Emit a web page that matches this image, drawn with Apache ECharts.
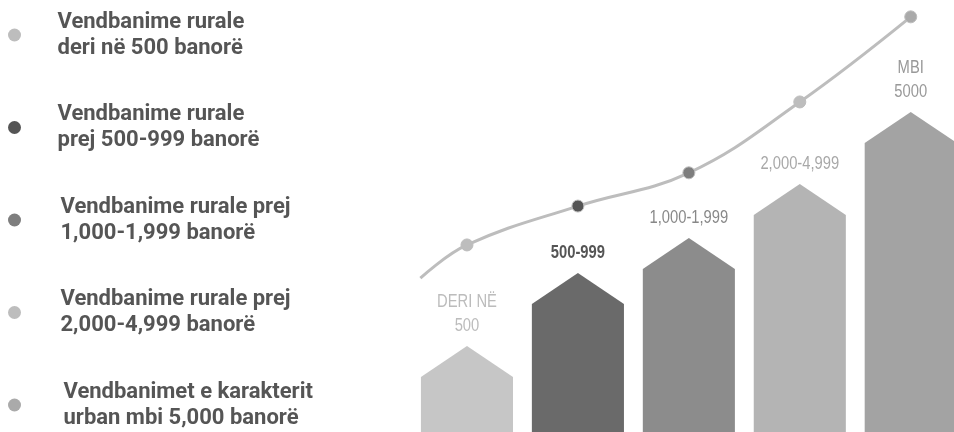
<!DOCTYPE html>
<html>
<head>
<meta charset="utf-8">
<script src="https://cdn.jsdelivr.net/npm/echarts@6/dist/echarts.min.js"></script>
<style>
html,body{margin:0;padding:0;background:#ffffff;}
#chart{width:954px;height:432px;}
</style>
</head>
<body>
<div id="chart"></div>
<script>
// Categories (labels above the house-shaped bars)
var categories = ['DERI NË\n500', '500-999', '1,000-1,999', '2,000-4,999', 'MBI\n5000'];
// Legend labels
var legendNames = [
  'Vendbanime rurale\nderi në 500 banorë',
  'Vendbanime rurale\nprej 500-999 banorë',
  'Vendbanime rurale prej\n1,000-1,999 banorë',
  'Vendbanime rurale prej\n2,000-4,999 banorë',
  'Vendbanimet e karakterit\nurban mbi 5,000 banorë'
];
// Bar heights (apex, arbitrary 0-100 scale)
var barValues = [19.9, 36.8, 44.9, 57.4, 74.1];
// Trend line values
var lineStartX = -0.42;
var lineStartValue = 35.6;
var lineValues = [43.3, 52.3, 60.0, 76.4, 96.1];

var barColors = ['#c6c6c6', '#6a6a6a', '#8c8c8c', '#b4b4b4', '#a3a3a3'];
var dotColors = ['#bdbdbd', '#555555', '#7e7e7e', '#bdbdbd', '#aaaaaa'];
var labelColors = ['#bcbcbc', '#555555', '#888888', '#a8a8a8', '#999999'];

var chart = echarts.init(document.getElementById('chart'));

var series = [];
categories.forEach(function (cat, i) {
  series.push({
    type: 'custom',
    name: legendNames[i],
    color: dotColors[i],
    data: [[i, barValues[i]]],
    clip: false,
    renderItem: function (params, api) {
      var x = api.value(0), v = api.value(1);
      var apex = api.coord([x, v]);
      var base = api.coord([x, 0]);
      var half = api.size([1, 0])[0] * 0.415;
      var roof = 31;
      return {
        type: 'group',
        children: [
          {
            type: 'polygon',
            shape: {
              points: [
                [apex[0] - half, base[1]],
                [apex[0] - half, apex[1] + roof],
                [apex[0], apex[1]],
                [apex[0] + half, apex[1] + roof],
                [apex[0] + half, base[1]]
              ]
            },
            style: { fill: barColors[i] }
          },
          {
            type: 'text',
            x: apex[0],
            y: apex[1] - 8,
            scaleX: 0.82,
            style: {
              text: cat,
              x: 0,
              y: 0,
              align: 'center',
              verticalAlign: 'bottom',
              fontFamily: '"Liberation Sans", sans-serif',
              fontSize: 18,
              fontWeight: i === 1 ? 'bold' : 'normal',
              lineHeight: 24,
              fill: labelColors[i]
            }
          }
        ]
      };
    }
  });
});

var lineData = [{ value: [lineStartX, lineStartValue], symbol: 'none' }];
lineValues.forEach(function (v, i) {
  lineData.push({ value: [i, v], itemStyle: { color: dotColors[i] } });
});

series.push({
  type: 'line',
  name: 'trend',
  data: lineData,
  smooth: 0.4,
  symbol: 'circle',
  symbolSize: 12,
  z: 5,
  clip: false,
  lineStyle: { color: '#bdbdbd', width: 3 },
  itemStyle: { borderColor: '#bdbdbd', borderWidth: 1 }
});

var legendPad = [26, 26, 29, 29, 32];

chart.setOption({
  animation: false,
  backgroundColor: '#ffffff',
  grid: { left: 411.5, top: 0, bottom: 0, right: 0 },
  xAxis: { type: 'value', min: -0.5, max: 4.39, show: false },
  yAxis: { type: 'value', min: 0, max: 100, show: false },
  legend: {
    orient: 'vertical',
    left: 8,
    top: 9,
    height: 430,
    padding: 0,
    itemGap: 40.5,
    itemWidth: 24,
    itemHeight: 13,
    icon: 'circle',
    selectedMode: false,
    data: legendNames.map(function (n, i) {
      return { name: n, textStyle: { padding: [0, 0, 0, legendPad[i]] } };
    }),
    textStyle: {
      fontFamily: 'Roboto, sans-serif',
      fontSize: 22,
      fontWeight: 'bold',
      color: '#555555',
      lineHeight: 26
    }
  },
  series: series
});
</script>
</body>
</html>
